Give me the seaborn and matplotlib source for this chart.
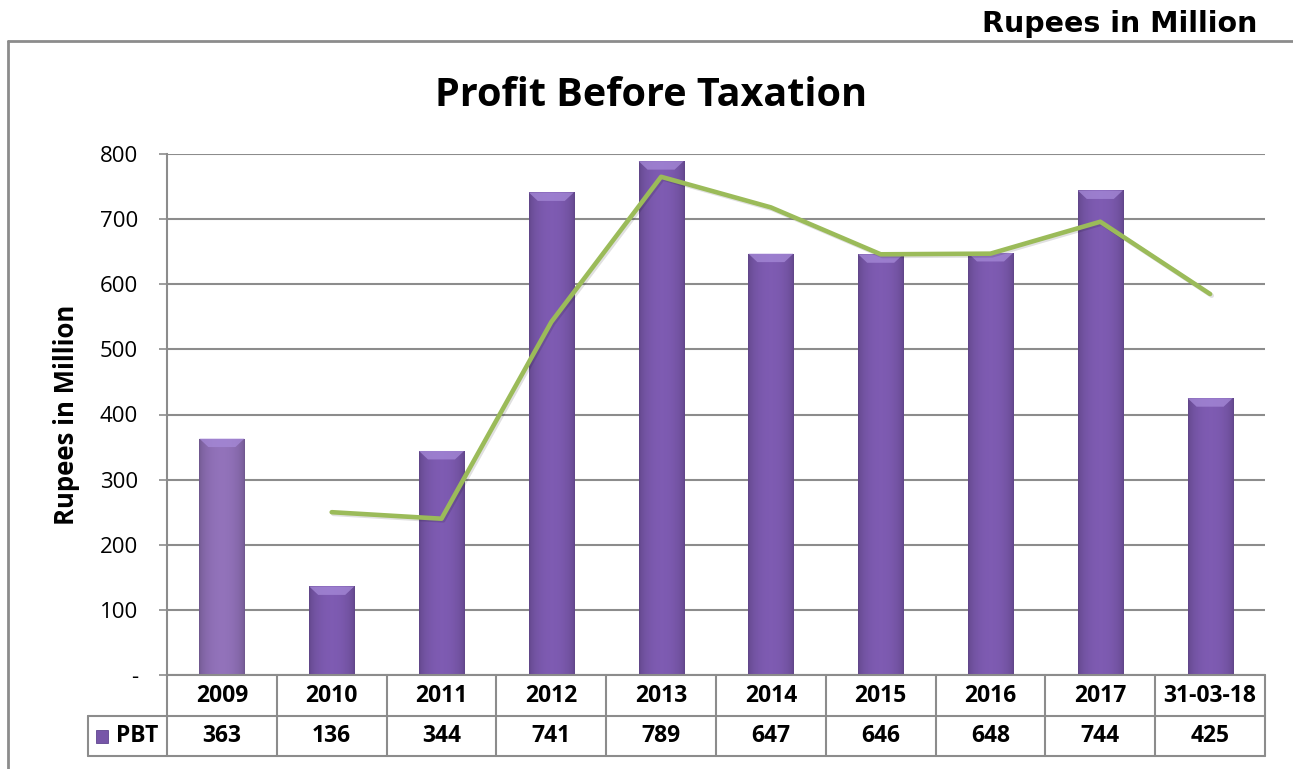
import numpy as np
import pandas as pd
import matplotlib
matplotlib.use("Agg")
import matplotlib.pyplot as plt
import matplotlib.transforms as mtransforms
from matplotlib.patches import Rectangle, Polygon
from matplotlib.lines import Line2D
import matplotlib.patheffects as pe
import seaborn as sns

# ---- data ----
categories = ["2009", "2010", "2011", "2012", "2013", "2014", "2015", "2016", "2017", "31-03-18"]
pbt = [363, 136, 344, 741, 789, 647, 646, 648, 744, 425]
trend_cats = ["2010", "2011", "2012", "2013", "2014", "2015", "2016", "2017", "31-03-18"]
trend = [250, 240, 542, 765, 718, 646, 647, 696, 585]
yticks = [0, 100, 200, 300, 400, 500, 600, 700, 800]
ytick_labels = ["-", "100", "200", "300", "400", "500", "600", "700", "800"]
series_name = "PBT"

sns.set_style("white")
plt.rcParams["font.family"] = ["Lato", "DejaVu Sans"]
plt.rcParams["text.color"] = "black"
plt.rcParams["axes.labelcolor"] = "black"
plt.rcParams["ytick.labelcolor"] = "black"

W, H = 1293, 769
fig = plt.figure(figsize=(W / 100, H / 100), dpi=100)
fig.patch.set_facecolor("white")

def fx(px):
    return px / W

def fy(py):
    return 1 - py / H

ax_l, ax_r, ax_t, ax_b = 167, 1265, 154, 675
ax = fig.add_axes([fx(ax_l), fy(ax_b), fx(ax_r - ax_l), (ax_b - ax_t) / H])

df = pd.DataFrame({"cat": categories, "val": pbt})
bar_colors = ["#8a6cb0"] + ["#7756a8"] * (len(categories) - 1)
sns.barplot(data=df, x="cat", y="val", hue="cat", palette=bar_colors, legend=False,
            width=0.41, ax=ax, edgecolor="none", zorder=3)

# gradient shading + bevel on bars
bars = [p for p in ax.patches if isinstance(p, Rectangle)]
for p, col in zip(bars, bar_colors):
    x0, y0 = p.get_x(), p.get_y()
    w, h = p.get_width(), p.get_height()
    base = np.array(matplotlib.colors.to_rgb(col))
    t = np.linspace(0, 1, 64)
    prof = 0.80 + 0.26 * np.sin(np.pi * t) ** 0.5
    img = np.clip(base[None, :] * prof[:, None], 0, 1)[None, :, :]
    im = ax.imshow(img, extent=[x0, x0 + w, y0, y0 + h], aspect="auto", zorder=3.5,
                   interpolation="bilinear")
    im.set_clip_path(p)
    bev = 13
    inset = w * 0.2
    ax.add_patch(Polygon([[x0, y0 + h], [x0 + w, y0 + h], [x0 + w - inset, y0 + h - bev],
                          [x0 + inset, y0 + h - bev]], closed=True,
                         facecolor="#a68ad8", edgecolor="none", alpha=0.75, zorder=3.6))

# trend line (green)
pos = {c: i for i, c in enumerate(categories)}
tdf = pd.DataFrame({"x": [pos[c] for c in trend_cats], "y": trend})
sns.lineplot(data=tdf, x="x", y="y", ax=ax, color="#9bbb59", linewidth=3.3, zorder=5,
             path_effects=[pe.SimpleLineShadow(offset=(1.2, -1.2), alpha=0.12), pe.Normal()])

ax.set_xlim(-0.5, len(categories) - 0.5)
ax.set_ylim(0, 800)
ax.set_yticks(yticks)
ax.set_yticklabels(ytick_labels, fontsize=16, family=["Open Sans", "DejaVu Sans"])
ax.set_xticks([])
ax.set_xlabel("")
ax.set_ylabel("Rupees in Million", fontsize=18.5, fontweight="bold", labelpad=14,
              family=["Open Sans", "DejaVu Sans"])
ax.tick_params(axis="y", length=6, width=1.2, color="#8c8c8c", pad=15, left=True)
for yv in yticks:
    ax.axhline(yv, color="#8c8c8c", linewidth=1.5, zorder=1)
for s in ["top", "right", "bottom"]:
    ax.spines[s].set_visible(False)
ax.spines["left"].set_color("#8c8c8c")
ax.spines["left"].set_linewidth(1.5)

# ---- data table below ----
tr = mtransforms.blended_transform_factory(ax.transData, ax.transAxes)
axh = ax_b - ax_t

def ya(py):
    return (ax_b - py) / axh

row1_bot, row2_bot = 716, 756
lc = "#8c8c8c"
lw = 1.5
ax.add_line(Line2D([-0.5, len(categories) - 0.5], [0, 0], transform=tr, color=lc, lw=lw, clip_on=False, zorder=6))
for py in (row1_bot, row2_bot):
    ax.add_line(Line2D([(88 - ax_l) / (ax_r - ax_l), 1], [ya(py), ya(py)], transform=ax.transAxes,
                       color=lc, lw=lw, clip_on=False))
for i in range(len(categories) + 1):
    ax.add_line(Line2D([i - 0.5, i - 0.5], [0, ya(row2_bot)], transform=tr, color=lc, lw=lw, clip_on=False))
ax.add_line(Line2D([(88 - ax_l) / (ax_r - ax_l)] * 2, [ya(row1_bot), ya(row2_bot)],
                   transform=ax.transAxes, color=lc, lw=lw, clip_on=False))

tfam = ["Open Sans", "DejaVu Sans"]
for i, (c, v) in enumerate(zip(categories, pbt)):
    ax.text(i, ya((ax_b + row1_bot) / 2), c, transform=tr, ha="center", va="center",
            fontsize=16.5, fontweight="bold", family=tfam, clip_on=False)
    ax.text(i, ya((row1_bot + row2_bot) / 2), str(v), transform=tr, ha="center", va="center",
            fontsize=16.5, fontweight="bold", family=tfam, clip_on=False)

# legend key in table
ymid = (row1_bot + row2_bot) / 2
fig.patches.append(Rectangle((fx(96), fy(ymid + 7)), fx(12), 13 / H, transform=fig.transFigure,
                             facecolor="#7756a8", edgecolor="#5e4590", lw=0.6))
fig.text(fx(116), fy(ymid), series_name, ha="left", va="center", fontsize=16.5, fontweight="bold", family=tfam)

# ---- outer frame ----
fig.add_artist(Line2D([fx(8), 1], [fy(41), fy(41)], transform=fig.transFigure, color="#8c8c8c", lw=2))
fig.add_artist(Line2D([fx(8), fx(8)], [fy(41), 0], transform=fig.transFigure, color="#8c8c8c", lw=2))

# titles
fig.text(fx(651), fy(96), "Profit Before Taxation", ha="center", va="center",
         fontsize=28.5, fontweight="bold", family=tfam)
fig.text(fx(1257), fy(24), "Rupees in Million", ha="right", va="center",
         fontsize=20.5, fontweight="bold", family=["DejaVu Sans"])

fig.savefig("out.png", dpi=100, facecolor="white")
